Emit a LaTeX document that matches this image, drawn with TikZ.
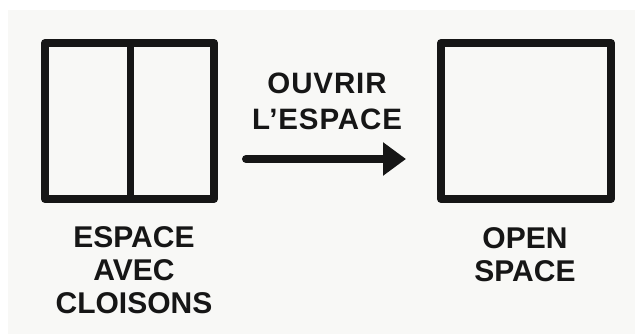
\documentclass[tikz,border=0pt]{standalone}
\usepackage{fontspec}
\setmainfont{Liberation Sans}
\newfontface\actfont{Liberation Sans Bold}[LetterSpace=3]
\usetikzlibrary{arrows.meta}
\definecolor{bg}{RGB}{248,248,246}
\definecolor{ink}{RGB}{22,22,22}
\tikzset{
  roombox/.style={draw=ink, line width=8pt, line join=round, minimum width=169pt, minimum height=156pt, inner sep=0pt},
  wall/.style={draw=ink, line width=7.5pt},
  caption/.style={text=ink, font=\bfseries\fontsize{30}{33}\selectfont, align=center, anchor=north, inner sep=0pt},
  actionlbl/.style={text=ink, font=\actfont\fontsize{29.5}{36}\selectfont, align=center, anchor=north, inner sep=0pt},
  flow/.style={draw=ink, line width=8pt, line cap=round, -{Triangle[length=23pt,width=32pt]}}
}
\begin{document}
\begin{tikzpicture}[x=1pt,y=-1pt]
  \useasboundingbox (0,0) rectangle (635,334);
  \fill[white] (0,0) rectangle (635,334);
  \fill[bg] (8,10) rectangle (635,334);
  \node[roombox] (left) at (129.5,121) {};
  \draw[wall] (130.5,43) coordinate (wtop) -- (130.5,199) coordinate (wbot);
  \node[roombox, minimum width=170pt] (right) at (526,121) {};
  \coordinate (a0) at (246,159);
  \coordinate (a1) at (406,159);
  \draw[flow] (a0) -- (a1);
  \node[actionlbl] (act) at (327,72.5) {OUVRIR\\L’ESPACE};
  \node[caption] (lcap) at (134,226.5) {ESPACE\\AVEC\\CLOISONS};
  \node[caption] (rcap) at (525,227.5) {OPEN\\SPACE};
\end{tikzpicture}
\end{document}
